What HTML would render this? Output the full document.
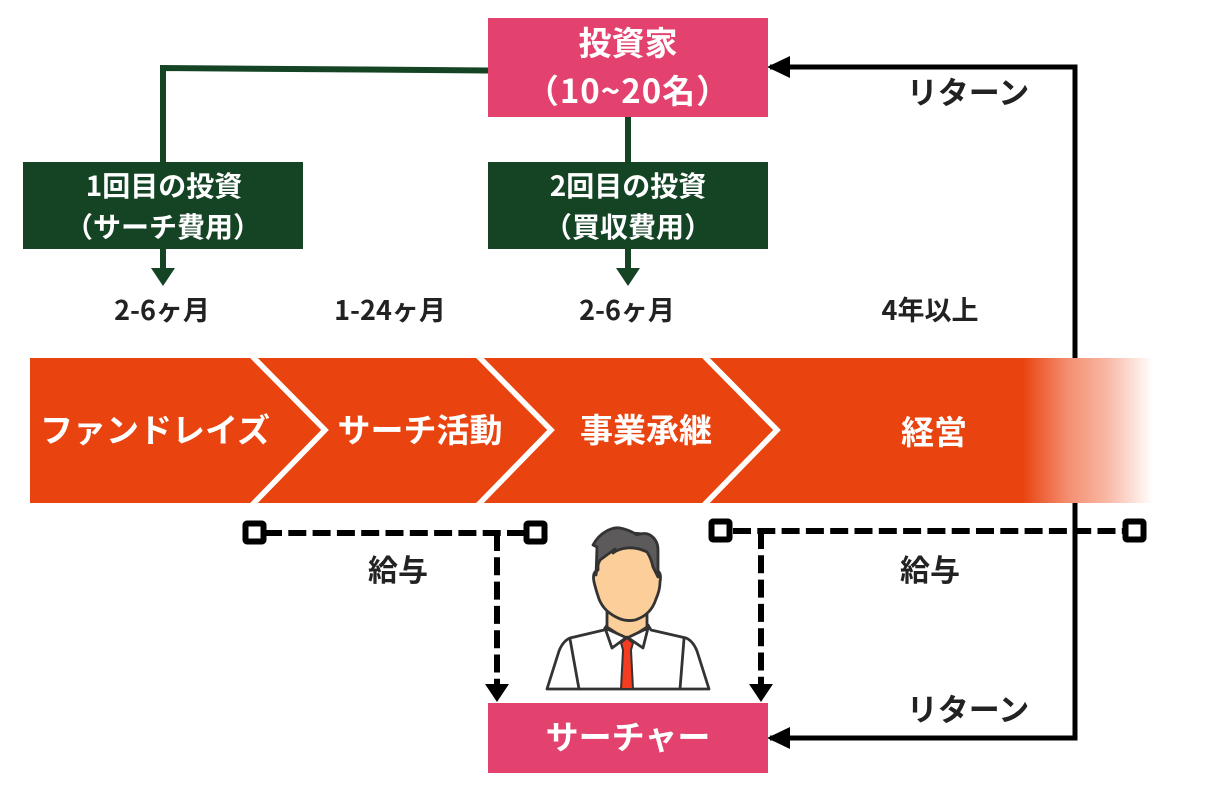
<!DOCTYPE html>
<html lang="ja"><head><meta charset="utf-8"><style>
html,body{margin:0;padding:0;background:#fff}
svg{display:block}
text{font-family:"Noto Sans CJK JP","Liberation Sans",sans-serif;font-weight:700;text-anchor:middle}
</style></head><body>
<svg width="1208" height="796" viewBox="0 0 1208 796" xmlns="http://www.w3.org/2000/svg">
<defs>
<linearGradient id="g" x1="0" x2="1" y1="0" y2="0"><stop offset="0" stop-color="#e9440f"/><stop offset="0.1" stop-color="#ec5a2e"/><stop offset="0.35" stop-color="#f38f71"/><stop offset="0.65" stop-color="#f9b8a5"/><stop offset="1" stop-color="#fff"/></linearGradient>
</defs>
<!-- black return line -->
<path d="M770 67H1075V738H770" fill="none" stroke="#000" stroke-width="5"/>
<path d="M767 67L790 56V78Z M767 738L790 727V749Z" fill="#000"/>
<!-- banner -->
<rect x="30" y="358" width="994" height="145" fill="#e9440f"/>
<rect x="1023" y="358" width="130" height="145" fill="url(#g)"/>
<path d="M252 356L325 430L252 505M478 356L551 430L478 505M704 356L777 430L704 505" fill="none" stroke="#fff" stroke-width="5.5"/>
<g fill="#fff" font-size="33">
<text x="155" y="442">ファンドレイズ</text>
<text x="420" y="442">サーチ活動</text>
<text x="646" y="442">事業承継</text>
<text x="934" y="444">経営</text>
</g>
<!-- investor -->
<path d="M488 70.500L163 68V163" fill="none" stroke="#154425" stroke-width="6"/>
<path d="M628 117V163" stroke="#154425" stroke-width="6"/>
<rect x="488" y="18" width="280" height="99" fill="#e2426d"/>
<text x="628" y="55" font-size="33" fill="#fff">投資家</text>
<text x="628" y="103" font-size="33" fill="#fff" letter-spacing="1">（10~20名）</text>
<!-- green boxes -->
<rect x="23" y="162" width="280" height="87" fill="#154425"/>
<rect x="488" y="162" width="280" height="87" fill="#154425"/>
<g fill="#fff" font-size="28">
<text x="164" y="196">1回目の投資</text>
<text x="163" y="237">（サーチ費用）</text>
<text x="628" y="196">2回目の投資</text>
<text x="628" y="237">（買収費用）</text>
</g>
<path d="M163 249V270M628 249V270" stroke="#154425" stroke-width="6"/>
<path d="M151 268H175L163 286Z M616 268H640L628 286Z" fill="#154425"/>
<g fill="#222" font-size="27">
<text x="162" y="320">2-6ヶ月</text>
<text x="390" y="320">1-24ヶ月</text>
<text x="627" y="320">2-6ヶ月</text>
<text x="930" y="320">4年以上</text>
<text x="968" y="104" font-size="31">リターン</text>
<text x="968" y="721" font-size="31">リターン</text>
<text x="398" y="581" font-size="30">給与</text>
<text x="930" y="581" font-size="30">給与</text>
</g>
<!-- dashed salary -->
<g fill="none" stroke="#000" stroke-width="6">
<path d="M264 533H526" stroke-dasharray="18 6.300"/>
<path d="M733 531H1126" stroke-dasharray="18 6.300"/>
<path d="M497 533V684" stroke-dasharray="18 6.300"/>
<path d="M761 531V684" stroke-dasharray="18 6.300"/>
<rect x="245.500" y="523.500" width="18" height="18" rx="1.500"/>
<rect x="526.500" y="523.500" width="18" height="18" rx="1.500"/>
<rect x="711.500" y="521.500" width="18" height="18" rx="1.500"/>
<rect x="1125.500" y="521.500" width="18" height="18" rx="1.500"/>
</g>
<path d="M485 684H509L497 702Z M749 684H773L761 702Z" fill="#000"/>
<!-- searcher box -->
<rect x="488" y="703" width="280" height="70" fill="#e2426d"/>
<text x="628" y="749" font-size="33" fill="#fff">サーチャー</text>
<!-- person -->
<g stroke="#333" stroke-width="2.800" stroke-linejoin="round" stroke-linecap="round">
<path d="M547 689L559 651Q563 641 570 638L604 630L607 625H648L651 630L686 638Q693 641 697 651L709 689Z" fill="#fff"/>
<path d="M570 639L579 689M684 639L680 689" fill="none"/>
<path d="M607 608V627L627 640L647 627V608Z" fill="#fbce9a"/>
<path d="M598 570Q592 572 594 582Q596 590 598 596Q602 610 616 617Q625 622 635 620Q651 615 656 599Q660 590 660 582Q662 572 656 570L655 540Q640 530 625 535Q605 535 598 550Z" fill="#fbce9a"/>
<path d="M593 545Q598 536 605 532Q613 527 620 528Q630 530 637 535Q645 532 650 535Q658 540 658 550V577L653 567Q651 558 647 552Q637 547 627 548Q618 549 613 553L615 549L600 560Q597 566 596 575L597 547Z" fill="#5d5a5c"/>
<path d="M605 628L612 648L627 637L643 648L648 628L627 638Z" fill="#fff"/>
<path d="M621 643L627 638L633 643L631 650L633 689H621L623 650Z" fill="#f43c22" stroke-width="2"/>
</g>
</svg>
</body></html>
